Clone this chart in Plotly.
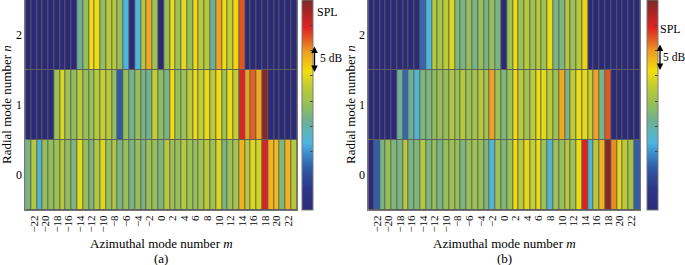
import plotly.graph_objects as go

# ---------------- data ----------------
m_values = list(range(-23, 24))          # azimuthal mode number m
n_values = [0, 1, 2]                     # radial mode number n
tick_m = list(range(-22, 23, 2))
tick_text = [("\u2212" + str(abs(v))) if v < 0 else str(v) for v in tick_m]

# relative SPL (dB), panel (a)
spl_a_n0 = [12.0, 17.0, 7.5, 14.5, 14.0, 15.0, 17.0, 14.0, 12.5, 20.0,
            14.5, 12.5, 16.5, 19.5, 14.5, 16.5, 12.0, 14.5, 12.0, 14.5,
            12.0, 15.0, 14.5, 12.5, 17.0, 15.0, 14.5, 17.0, 15.0, 14.5,
            15.5, 17.5, 15.0, 19.5, 12.0, 15.0, 15.5, 23.5, 17.5, 19.5,
            19.0, 29.6, 23.5, 23.0, 12.5, 23.5, 17.0]
spl_a_n1 = [-6.5, -6.5, -6.5, -6.5, -6.5, 15.0, 19.5, 15.0, 14.0, 17.6,
            14.5, 15.0, 17.0, 18.0, 17.0, 14.0, 1.8, 14.5, 11.5, 14.5,
            12.0, 11.5, 18.0, 14.0, 12.0, 21.0, 14.5, 15.0, 17.5, 20.5,
            18.0, 20.0, 17.6, 21.0, 15.0, 20.5, 18.0, 29.6, 24.6, 27.0,
            24.0, 34.0, -6.5, -6.5, -6.5, -6.5, -6.5]
spl_a_n2 = [-6.5, -6.5, -6.5, -6.5, -6.5, -6.5, -6.5, -6.5, -6.5, 11.0,
            14.3, 20.9, 20.5, 14.3, 17.6, 17.0, 14.5, 6.8, -6.5, 6.8,
            17.0, 24.0, 15.0, -6.5, 14.5, 20.5, 15.0, 20.0, 14.5, 20.5,
            17.6, 17.0, 11.0, 24.6, 21.0, 18.0, 21.5, 27.5, -6.5, -6.5,
            -6.5, -6.5, -6.5, -6.5, -6.5, -6.5, -6.5]

# relative SPL (dB), panel (b)
spl_b_n0 = [-6.5, 2.0, 12.0, 14.5, 12.5, 12.0, 17.5, 12.0, 12.5, 17.0,
            12.5, 14.5, 12.0, 14.5, 15.0, 14.5, 12.5, 14.5, 15.0, 14.5,
            12.5, 7.5, 15.0, 12.5, 15.0, 21.0, 17.5, 20.0, 18.0, 20.5,
            15.0, 7.5, 15.0, 14.5, 17.0, 15.0, 20.5, 29.6, 7.5, 17.0,
            23.5, 34.0, 25.5, 20.0, 17.5, 15.5, 2.0]
spl_b_n1 = [-6.5, -6.5, -6.5, -6.5, -6.5, 11.0, 2.5, 11.0, 7.5, 12.5,
            12.5, 14.0, 14.5, 14.5, 16.5, 15.0, 17.0, 15.0, 15.5, 17.0,
            15.5, 24.6, 15.0, 12.5, 15.0, 21.0, 17.5, 15.5, 17.5, 20.5,
            20.0, 17.5, 15.0, 24.0, 12.5, 17.5, 20.5, 20.0, 18.0, 24.6,
            12.0, 27.5, -6.5, -6.5, -6.5, -6.5, -6.5]
spl_b_n2 = [-6.5, -6.5, -6.5, -6.5, -6.5, -6.5, -6.5, -6.5, -6.5, 2.5,
            7.0, 17.0, 16.0, 17.5, 19.5, 12.5, 12.0, 14.5, 12.0, 14.5,
            12.0, 14.5, 12.0, -6.5, 15.0, 21.0, 15.0, 17.0, 15.0, 17.5,
            15.0, 20.5, 12.0, 12.5, 17.0, 15.0, 17.0, 21.5, -6.5, -6.5,
            -6.5, -6.5, -6.5, -6.5, -6.5, -6.5, -6.5]

cbar_ticks = [0, 5, 10, 15, 20, 25, 30]
z_min, z_max = -6.5, 35.0

# ---------------- style ----------------
W, H = 685, 265
FONT = "Liberation Serif"
colorscale = [
    [0.00, "#2b2a78"], [0.10, "#2c3588"], [0.20, "#2f5aa8"], [0.27, "#3a8fd0"],
    [0.32, "#4cb6e0"], [0.38, "#5fb4b8"], [0.42, "#6bb097"], [0.50, "#93bf5a"],
    [0.58, "#bccb35"], [0.66, "#f2df0a"], [0.72, "#f2b41a"], [0.76, "#ee9a22"],
    [0.81, "#e55e22"], [0.87, "#de2222"], [0.93, "#b42424"], [1.00, "#742a26"],
]

def px(x):
    return x / W

def py(y):
    return 1 - y / H

panels = [
    dict(z=[spl_a_n0, spl_a_n1, spl_a_n2], x0=25.3, x1=297.0, cb=302.0, xa="x", ya="y",
         label="(a)", ylab_x=6, spl=(315, 12), arrow=(314.5, 45, 72), db=(318, 58)),
    dict(z=[spl_b_n0, spl_b_n1, spl_b_n2], x0=368.3, x1=640.0, cb=646.5, xa="x2", ya="y2",
         label="(b)", ylab_x=350, spl=(658, 29), arrow=(660, 43, 70), db=(661, 57)),
]

fig = go.Figure()
annotations = []
layout_axes = {}
for i, p in enumerate(panels):
    fig.add_trace(go.Heatmap(
        x=m_values, y=n_values, z=p["z"], xaxis=p["xa"], yaxis=p["ya"],
        colorscale=colorscale, zmin=z_min, zmax=z_max, xgap=1, ygap=1,
        hoverinfo="skip",
        colorbar=dict(x=px(p["cb"]), xanchor="left", xpad=0, ypad=0,
                      y=py(0), yanchor="top", len=210 / H, lenmode="fraction",
                      thickness=11, thicknessmode="pixels",
                      outlinewidth=1, outlinecolor="#7a7a7a",
                      tickmode="array", tickvals=cbar_ticks, ticks="inside",
                      ticklen=3, tickcolor="#444", showticklabels=False),
    ))
    sfx = "" if i == 0 else "2"
    layout_axes["xaxis" + sfx] = dict(
        domain=[px(p["x0"]), px(p["x1"])], anchor="y" + sfx, range=[-23.5, 23.5],
        tickmode="array", tickvals=tick_m, ticktext=tick_text, tickangle=-90,
        ticks="", showgrid=False, zeroline=False,
        showline=True, mirror=True, linecolor="#777", linewidth=1,
        tickfont=dict(family=FONT, size=11, color="black"))
    layout_axes["yaxis" + sfx] = dict(
        domain=[py(210), py(0)], anchor="x" + sfx, range=[-0.5, 2.5],
        tickmode="array", tickvals=n_values, ticks="", showgrid=False, zeroline=False,
        showline=True, mirror=True, linecolor="#777", linewidth=1,
        tickfont=dict(family=FONT, size=12, color="black"))
    cx = (p["x0"] + p["x1"]) / 2
    annotations += [
        dict(text="Azimuthal mode number <i>m</i>", x=px(cx), y=py(243), xref="paper", yref="paper",
             showarrow=False, xanchor="center", yanchor="middle",
             font=dict(family=FONT, size=13, color="black")),
        dict(text=p["label"], x=px(cx), y=py(258), xref="paper", yref="paper",
             showarrow=False, xanchor="center", yanchor="middle",
             font=dict(family=FONT, size=13, color="black")),
        dict(text="Radial mode number <i>n</i>", x=px(p["ylab_x"]), y=py(105), xref="paper", yref="paper",
             showarrow=False, textangle=-90, xanchor="center", yanchor="middle",
             font=dict(family=FONT, size=13, color="black")),
        dict(text="SPL", x=px(p["spl"][0]), y=py(p["spl"][1]), xref="paper", yref="paper",
             showarrow=False, xanchor="left", yanchor="middle",
             font=dict(family=FONT, size=12, color="black")),
        dict(text="5 dB", x=px(p["db"][0]), y=py(p["db"][1]), xref="paper", yref="paper",
             showarrow=False, xanchor="left", yanchor="middle",
             font=dict(family=FONT, size=11.5, color="black")),
        dict(text="", x=px(p["arrow"][0]), y=py(p["arrow"][2]), xref="paper", yref="paper",
             showarrow=True, ax=0, ay=-(p["arrow"][2] - p["arrow"][1]),
             arrowside="end+start", arrowhead=2, arrowsize=1, arrowwidth=1.3,
             arrowcolor="black", standoff=0, startstandoff=0),
    ]

fig.update_layout(
    width=W, height=H, margin=dict(l=0, r=0, t=0, b=0),
    paper_bgcolor="white", plot_bgcolor="#5e5e5e",
    showlegend=False, annotations=annotations, **layout_axes,
)
fig.write_html("out.html", config={"displayModeBar": False},
               post_script="document.body.style.margin='0px';")
